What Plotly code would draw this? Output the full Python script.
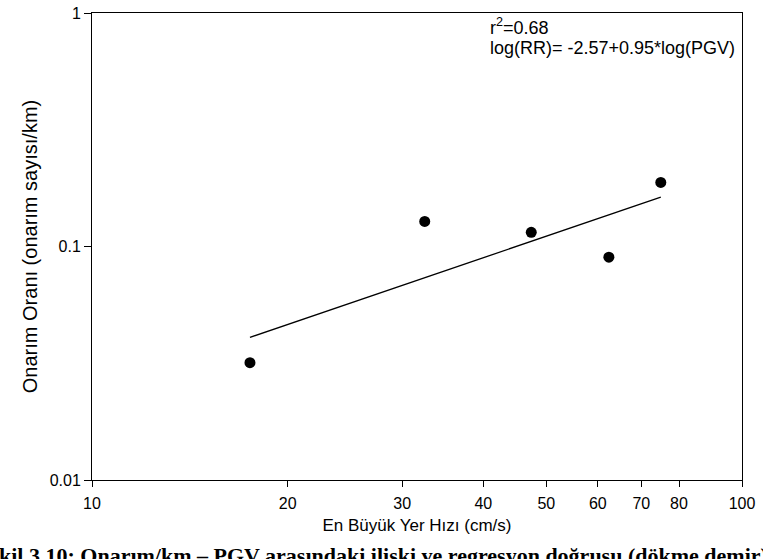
import math
import plotly.graph_objects as go

# Data
pgv = [17.5, 32.5, 47.4, 62.4, 75.0]          # En Büyük Yer Hızı (cm/s)
rr = [0.0318, 0.128, 0.115, 0.090, 0.188]      # Onarım Oranı (onarım sayısı/km)

# Regression: log(RR) = a + b*log(PGV)
fit_a = -2.57
fit_b = 0.95
fit_x = [17.5, 75.0]
fit_y = [10 ** (fit_a + fit_b * math.log10(v)) for v in fit_x]

x_ticks = [10, 20, 30, 40, 50, 60, 70, 80, 100]
x_ticklabels = ["10", "20", "30", "40", "50", "60", "70", "80", "100"]
y_ticks = [0.01, 0.1, 1]
y_ticklabels = ["0.01", "0.1", "1"]

font_family = "Liberation Sans, Arial, sans-serif"

fig = go.Figure()
fig.add_trace(go.Scatter(x=fit_x, y=fit_y, mode="lines",
                         line=dict(color="black", width=1.3), showlegend=False))
fig.add_trace(go.Scatter(x=pgv, y=rr, mode="markers",
                         marker=dict(color="black", size=11), showlegend=False))

fig.update_layout(
    width=763, height=559,
    margin=dict(l=92, r=21, t=13, b=79),
    paper_bgcolor="white", plot_bgcolor="white",
    font=dict(family=font_family, color="black", size=16),
    xaxis=dict(type="log", range=[1, 2], tickvals=x_ticks, ticktext=x_ticklabels,
               showline=True, linecolor="black", linewidth=1, mirror=True,
               ticks="outside", ticklen=6, tickcolor="black", showgrid=False,
               zeroline=False, tickfont=dict(size=16), ticklabelstandoff=3,
               automargin=False,
               title=dict(text="En Büyük Yer Hızı (cm/s)", font=dict(size=17), standoff=7)),
    yaxis=dict(type="log", range=[-2, 0], tickvals=y_ticks, ticktext=y_ticklabels,
               showline=True, linecolor="black", linewidth=1, mirror=True,
               ticks="outside", ticklen=7, tickcolor="black", showgrid=False,
               zeroline=False, tickfont=dict(size=16), automargin=False,
               title=dict(text="Onarım Oranı (onarım sayısı/km)", font=dict(size=20), standoff=6)),
)

fig.add_annotation(x=0.609, y=0.972, xref="paper", yref="paper", xanchor="left", yanchor="middle",
                   text="r<sup>2</sup>=0.68", showarrow=False, font=dict(size=18))
fig.add_annotation(x=0.609, y=0.925, xref="paper", yref="paper", xanchor="left", yanchor="middle",
                   text="log(RR)= -2.57+0.95*log(PGV)", showarrow=False, font=dict(size=18))

# clipped caption line at the bottom of the page
fig.add_annotation(x=-0.18, y=-0.131, xref="paper", yref="paper", xanchor="left", yanchor="top",
                   text="<b>Şekil 3.10: Onarım/km – PGV arasındaki ilişki ve regresyon doğrusu (dökme demir)</b>",
                   showarrow=False, font=dict(size=22, family="Liberation Serif, Times New Roman, serif"))

fig.write_html("out.html")
